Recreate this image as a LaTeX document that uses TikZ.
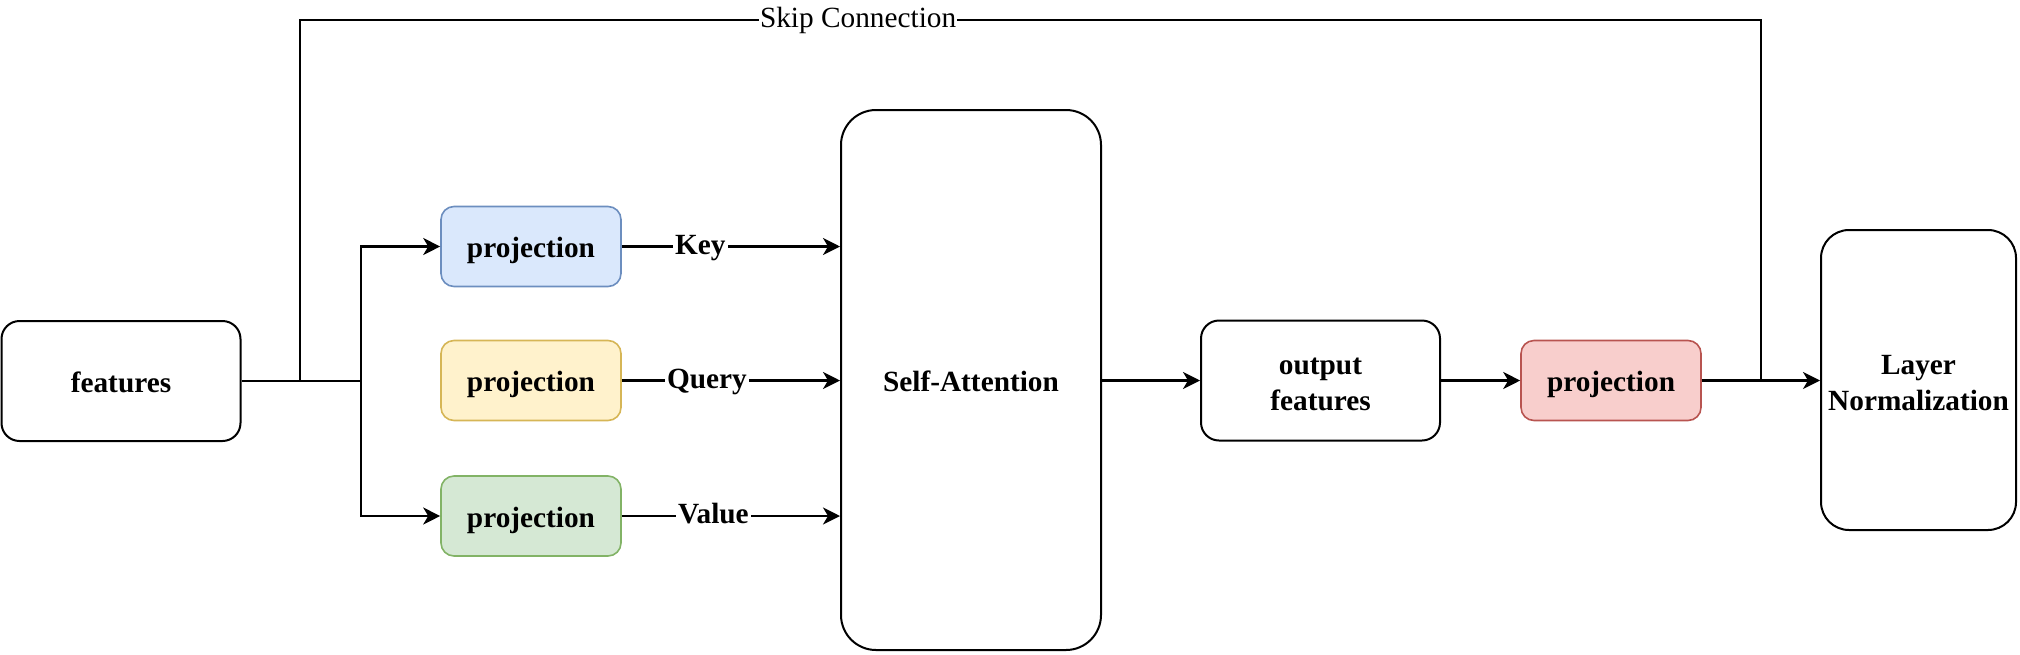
\documentclass[tikz,border=0pt]{standalone}
\usepackage{fontspec}
\setmainfont{Liberation Serif}
\usetikzlibrary{arrows.meta}
\definecolor{bluefill}{HTML}{DAE8FC}\definecolor{bluedraw}{HTML}{6C8EBF}
\definecolor{yelfill}{HTML}{FFF2CC}\definecolor{yeldraw}{HTML}{D6B656}
\definecolor{grnfill}{HTML}{D5E8D4}\definecolor{grndraw}{HTML}{82B366}
\definecolor{redfill}{HTML}{F8CECC}\definecolor{reddraw}{HTML}{B85450}
\begin{document}
\begin{tikzpicture}[x=1pt,y=-1pt,
  box/.style={draw=black, line width=2pt, fill=white, inner sep=0pt, align=center,
    font=\fontsize{29.3}{36}\selectfont\bfseries},
  onel/.style={text height=22.6pt, text depth=0pt},
  projbox/.style={box, onel, line width=1.6pt, rounded corners=13pt, minimum width=180pt, minimum height=80pt},
  conn/.style={line width=2.2pt, line join=miter},
  arr/.style={conn, -{Stealth[length=17pt,width=17pt,inset=5pt]}},
  lbl/.style={fill=white, inner sep=2pt, text height=22pt, text depth=7pt, font=\fontsize{29.3}{35}\selectfont\bfseries},
  skiplbl/.style={fill=white, inner sep=1pt, text height=21pt, text depth=7pt, font=\fontsize{29.3}{35}\selectfont}
]
\useasboundingbox (0,0) rectangle (2020,654);

\node[box, onel, rounded corners=18pt, minimum width=239pt, minimum height=120pt] (feat) at (121,381) {features};
\node[projbox, fill=bluefill, draw=bluedraw] (pk) at (531,246.5) {projection};
\node[projbox, fill=yelfill, draw=yeldraw] (pq) at (531,380.5) {projection};
\node[projbox, fill=grnfill, draw=grndraw] (pv) at (531,516) {projection};
\node[box, onel, rounded corners=35pt, minimum width=260pt, minimum height=540pt] (sa) at (971,380) {Self-Attention};
\node[box, rounded corners=18pt, minimum width=239pt, minimum height=120pt] (out) at (1320.5,380.5) {\rule{0pt}{25pt}output\\features};
\node[projbox, fill=redfill, draw=reddraw] (pr) at (1611,380.5) {projection};
\node[box, rounded corners=28pt, minimum width=195pt, minimum height=300pt] (ln) at (1918.5,380) {\rule{0pt}{26pt}Layer\\Normalization};

\coordinate (split) at (361,381);
\coordinate (skA) at (300,381);
\coordinate (skB) at (300,20);
\coordinate (skC) at (1761,20);
\coordinate (skD) at (1761,381);

\draw[conn] (feat.east) -- (split);
\draw[arr] (split) |- (pk.west);
\draw[arr] (split) |- (pv.west);

\draw[arr] (pk.east) -- node[lbl,pos=0.36]{Key} (pk.east -| sa.west);
\draw[arr] (pq.east) -- node[lbl,pos=0.39]{Query} (pq.east -| sa.west);
\draw[arr] (pv.east) -- node[lbl,pos=0.42]{Value} (pv.east -| sa.west);

\draw[arr] (sa.east |- out.west) -- (out.west);
\draw[arr] (out.east) -- (pr.west);
\draw[arr] (pr.east) -- (pr.east -| ln.west);

\draw[conn] (skA) -- (skB) -- node[skiplbl,pos=0.382]{Skip Connection} (skC) -- (skD);
\end{tikzpicture}
\end{document}
